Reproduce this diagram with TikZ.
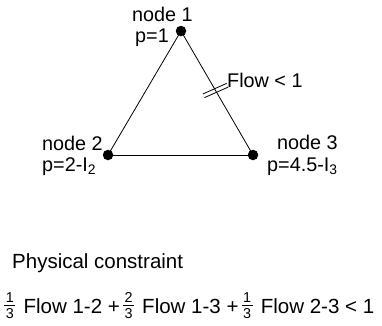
\documentclass[tikz,border=0pt]{standalone}
\usepackage{fontspec}
\usepackage{amsmath}
\setmainfont{Liberation Sans}
\newcommand{\myfr}[2]{\raisebox{2pt}{$\frac{\hspace{1.5pt}\text{#1}\hspace{1.5pt}}{\hspace{1.5pt}\text{#2}\hspace{1.5pt}}$}}
\begin{document}
\begin{tikzpicture}[x=1pt,y=1pt,
  font=\fontsize{19.8}{23}\selectfont,
  dot/.style={circle,fill,inner sep=0pt,minimum size=10.5pt},
  lbl/.style={inner sep=0pt},
  big/.style={font=\fontsize{20.5}{24}\selectfont},
  edge/.style={line width=0.8pt}]
\useasboundingbox (0,0) rectangle (382,325);
\node[dot] (n1) at (181,294) {};
\node[dot] (n2) at (108,170) {};
\node[dot] (n3) at (253,170) {};
\draw[edge] (n1.center) -- (n2.center);
\draw[edge] (n2.center) -- (n3.center);
\draw[edge] (n3.center) -- (n1.center);
\path (n1.center) -- (n3.center) coordinate[pos=0.48] (h);
\begin{scope}[shift={(h)},rotate=24]
  \draw[edge] (-13,-2) -- (13,-2);
  \draw[edge] (-13,2) -- (13,2);
\end{scope}
\node[lbl,anchor=base west] (fl) at (227,238) {Flow < 1};
\node[lbl,anchor=base west] (l1a) at (132,304) {node 1};
\node[lbl,anchor=base west] (l1b) at (135,283) {p=1};
\node[lbl,anchor=base west] (l2a) at (42,175) {node 2};
\node[lbl,anchor=base west] (l2b) at (42,154) {p=2-I\textsubscript{2}};
\node[lbl,anchor=base west] (l3a) at (277,176) {node 3};
\node[lbl,anchor=base west] (l3b) at (267,154) {p=4.5-I\textsubscript{3}};
\node[lbl,anchor=base west,big] (pc) at (12,57) {Physical constraint};
\node[lbl,anchor=base west,big] (eq) at (3,12)
  {\myfr{1}{3}\hspace{7pt}Flow 1-2 +\hspace{2pt}\myfr{2}{3}\hspace{7pt}Flow 1-3 +\hspace{2pt}\myfr{1}{3}\hspace{7pt}Flow 2-3 < 1};
\end{tikzpicture}
\end{document}
